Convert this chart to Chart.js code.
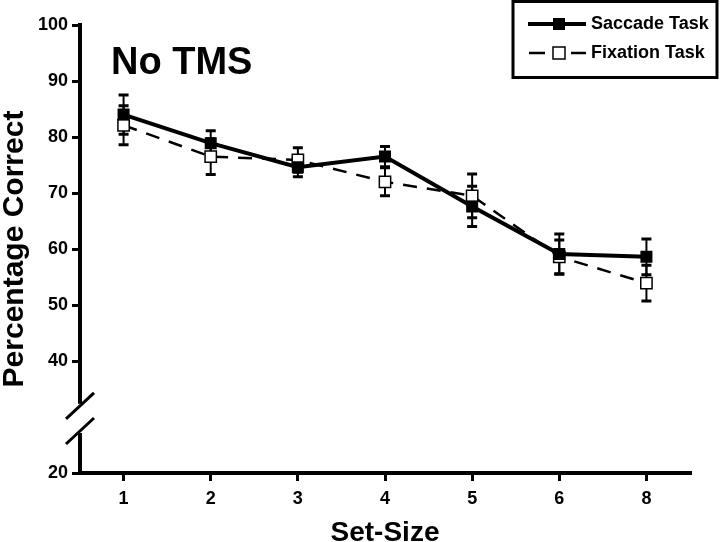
<!DOCTYPE html>
<html>
<head>
<meta charset="utf-8">
<script src="https://cdn.jsdelivr.net/npm/chart.js@4"></script>
<style>
  html, body { margin: 0; padding: 0; background: #fff; }
  #wrap { width: 720px; height: 542px; position: relative; }
</style>
</head>
<body>
<div id="wrap"><canvas id="chart" width="720" height="542"></canvas></div>
<script>
// values
const setSizes = ['1', '2', '3', '4', '5', '6', '8'];
const saccadeMean = [84.0, 78.9, 74.6, 76.5, 67.6, 59.1, 58.6];
const saccadeErr = [3.5, 2.2, 1.7, 1.8, 3.6, 3.6, 3.2];
const fixationMean = [82.1, 76.5, 75.9, 72.0, 69.5, 58.6, 53.9];
const fixationErr = [3.5, 3.2, 2.2, 2.5, 3.9, 3.0, 3.2];
const yTicks = [20, 40, 50, 60, 70, 80, 90, 100];
const breakValues = [32, 27.5];

const FONT = "'Liberation Sans', Arial, sans-serif";

// error bars, drawn under the markers
const errorBars = {
    id: 'errorBars',
    beforeDatasetsDraw(chart) {
        const ctx = chart.ctx;
        const x = chart.scales.x, y = chart.scales.y;
        const sets = [[saccadeMean, saccadeErr], [fixationMean, fixationErr]];
        ctx.save();
        ctx.strokeStyle = '#000';
        sets.forEach(([mean, err]) => {
            mean.forEach((m, i) => {
                const px = x.getPixelForValue(i);
                const top = y.getPixelForValue(m + err[i]);
                const bot = y.getPixelForValue(m - err[i]);
                ctx.lineWidth = 2;
                ctx.beginPath();
                ctx.moveTo(px, top);
                ctx.lineTo(px, bot);
                ctx.stroke();
                ctx.lineWidth = 3;
                ctx.beginPath();
                ctx.moveTo(px - 5, top);
                ctx.lineTo(px + 5, top);
                ctx.moveTo(px - 5, bot);
                ctx.lineTo(px + 5, bot);
                ctx.stroke();
            });
        });
        ctx.restore();
    }
};

// axis break, panel label and boxed legend
const extras = {
    id: 'extras',
    afterDraw(chart) {
        const ctx = chart.ctx;
        const y = chart.scales.y;
        const ax = chart.chartArea.left;
        ctx.save();
        // break in y axis
        const y1 = y.getPixelForValue(breakValues[0]);
        const y2 = y.getPixelForValue(breakValues[1]);
        ctx.fillStyle = '#fff';
        ctx.fillRect(ax - 4, y1 - 2, 8, y2 - y1 + 4);
        ctx.strokeStyle = '#000';
        ctx.lineWidth = 3;
        ctx.beginPath();
        [y1, y2].forEach(py => {
            ctx.moveTo(ax - 14, py + 13);
            ctx.lineTo(ax + 14, py - 13);
        });
        ctx.stroke();

        // panel label
        ctx.fillStyle = '#000';
        ctx.font = 'bold 38px ' + FONT;
        ctx.textBaseline = 'middle';
        ctx.fillText('No TMS', 111, 64);

        // legend
        ctx.lineWidth = 3;
        ctx.strokeRect(513, 1.5, 204, 76);
        ctx.font = 'bold 18px ' + FONT;
        // saccade
        ctx.lineWidth = 4;
        ctx.beginPath();
        ctx.moveTo(528, 24);
        ctx.lineTo(586, 24);
        ctx.stroke();
        ctx.fillRect(553, 18, 12, 12);
        ctx.fillText('Saccade Task', 591, 24);
        // fixation
        ctx.lineWidth = 2.5;
        ctx.beginPath();
        ctx.moveTo(529, 53);
        ctx.lineTo(545, 53);
        ctx.moveTo(571, 53);
        ctx.lineTo(586, 53);
        ctx.stroke();
        ctx.fillStyle = '#fff';
        ctx.fillRect(553, 47, 12, 12);
        ctx.lineWidth = 1.5;
        ctx.strokeRect(553, 47, 12, 12);
        ctx.fillStyle = '#000';
        ctx.fillText('Fixation Task', 591, 53);
        ctx.restore();
    }
};

new Chart(document.getElementById('chart'), {
    type: 'line',
    data: {
        labels: setSizes,
        datasets: [
            {
                label: 'Saccade Task',
                data: saccadeMean,
                borderColor: '#000',
                borderWidth: 4,
                pointStyle: 'rect',
                pointRadius: 8.5,
                pointBackgroundColor: '#000',
                pointBorderColor: '#000',
                pointBorderWidth: 0
            },
            {
                label: 'Fixation Task',
                data: fixationMean,
                borderColor: '#000',
                borderWidth: 2.5,
                borderDash: [14, 10],
                pointStyle: 'rect',
                pointRadius: 8,
                pointBackgroundColor: '#fff',
                pointBorderColor: '#000',
                pointBorderWidth: 1.5
            }
        ]
    },
    options: {
        responsive: false,
        animation: false,
        layout: { padding: { left: 0, right: 30, top: 25, bottom: 0 } },
        plugins: {
            legend: { display: false },
            tooltip: { enabled: false }
        },
        scales: {
            x: {
                type: 'category',
                offset: true,
                grid: {
                    offset: false,
                    drawOnChartArea: false,
                    drawTicks: true,
                    tickLength: 8,
                    color: '#000',
                    lineWidth: 3
                },
                border: { display: true, color: '#000', width: 4 },
                ticks: {
                    color: '#000',
                    font: { family: FONT, size: 18, weight: 'bold' },
                    padding: 7,
                    maxRotation: 0
                },
                title: {
                    display: true,
                    text: 'Set-Size',
                    color: '#000',
                    font: { family: FONT, size: 28, weight: 'bold', lineHeight: 1 },
                    padding: { top: 0, bottom: -5 }
                },
                afterFit(s) { s.height = 69; }
            },
            y: {
                min: 20,
                max: 100,
                afterBuildTicks(s) { s.ticks = yTicks.map(v => ({ value: v })); },
                grid: {
                    drawOnChartArea: false,
                    drawTicks: true,
                    tickLength: 8,
                    color: '#000',
                    lineWidth: 3
                },
                border: { display: true, color: '#000', width: 4 },
                ticks: {
                    color: '#000',
                    font: { family: FONT, size: 18, weight: 'bold' },
                    padding: 4
                },
                title: {
                    display: true,
                    text: 'Percentage Correct',
                    color: '#000',
                    font: { family: FONT, size: 30, weight: 'bold', lineHeight: 1 },
                    padding: { top: 0, bottom: 0 }
                },
                afterFit(s) { s.width = 80; }
            }
        }
    },
    plugins: [errorBars, extras]
});
</script>
</body>
</html>
